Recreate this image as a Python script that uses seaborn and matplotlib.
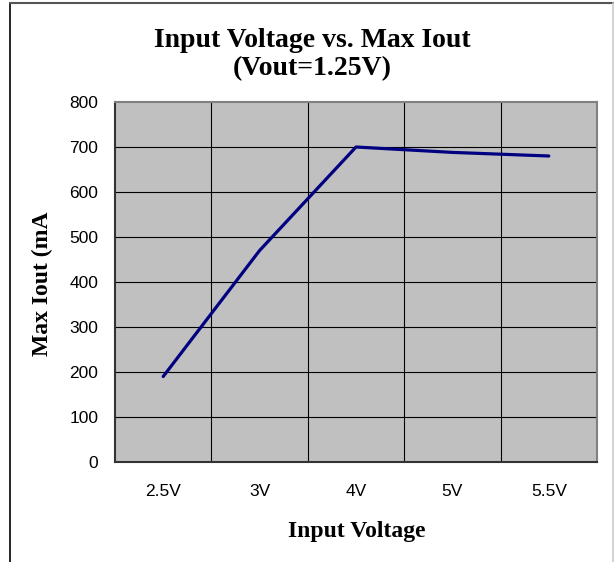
import matplotlib
matplotlib.use("Agg")
import matplotlib.pyplot as plt
import seaborn as sns
import pandas as pd
from matplotlib.lines import Line2D

sns.set_theme(style="white")
plt.rcParams['font.family'] = ['Liberation Sans', 'DejaVu Sans']
plt.rcParams['text.color'] = 'black'

voltages = ["2.5V", "3V", "4V", "5V", "5.5V"]
max_iout = [190, 470, 700, 688, 680]
y_ticks = [0, 100, 200, 300, 400, 500, 600, 700, 800]

df = pd.DataFrame({"voltage": voltages, "iout": max_iout})

W, H = 614, 562
fig = plt.figure(figsize=(W / 100, H / 100), dpi=100)
ax = fig.add_axes([115 / W, 1 - 462 / H, 482 / W, 360 / H])
ax.set_facecolor("#c0c0c0")

sns.lineplot(data=df, x="voltage", y="iout", color="#000080", linewidth=2.3,
             sort=False, ax=ax, zorder=3)

ax.set_xlim(-0.5, len(voltages) - 0.5)
ax.set_ylim(0, 800)
ax.set_yticks(y_ticks)
ax.set_xticks(range(len(voltages)))
ax.set_xticklabels(voltages)

# excel style grid: horizontal at ticks, vertical between categories
ax.grid(False)
for v in y_ticks[1:-1]:
    ax.axhline(v, color="black", linewidth=0.8, zorder=1)
for x in [i + 0.5 for i in range(len(voltages) - 1)]:
    ax.axvline(x, color="black", linewidth=0.8, zorder=1)

ax.tick_params(axis="y", length=2, width=0.8, color="#333333",
               direction="in", pad=12, labelsize=12.5, labelcolor="black")
ax.tick_params(axis="x", length=0, pad=16, labelsize=12.5, labelcolor="black")

ax.spines["left"].set_color("#333333")
ax.spines["bottom"].set_color("#333333")
ax.spines["top"].set_color("#808080")
ax.spines["right"].set_color("#808080")
for s in ax.spines.values():
    s.set_linewidth(1.5)

ax.set_xlabel("")
ax.set_ylabel("")

serif = ['Liberation Serif', 'DejaVu Serif']
fig.text(312 / W, 1 - 47 / H, "Input Voltage vs. Max Iout", ha="center", va="baseline",
         fontsize=20, fontweight="bold", family=serif, color="black")
fig.text(312 / W, 1 - 75 / H, "(Vout=1.25V)", ha="center", va="baseline",
         fontsize=20, fontweight="bold", family=serif, color="black")
fig.text(357 / W, 1 - 537 / H, "Input Voltage", ha="center", va="baseline",
         fontsize=17, fontweight="bold", family=serif, color="black")
fig.text(42 / W, 1 - 284 / H, "Max Iout (mA", ha="center", va="center",
         rotation=90, fontsize=17, fontweight="bold", family=serif, color="black")

# outer chart frame
fig.add_artist(Line2D([10 / W, 10 / W], [0, 1 - 3 / H], color="black", linewidth=1.2,
                      transform=fig.transFigure))
fig.add_artist(Line2D([10 / W, 1], [1 - 3 / H, 1 - 3 / H], color="#555555", linewidth=1.5,
                      transform=fig.transFigure))
fig.add_artist(Line2D([612.5 / W, 612.5 / W], [0, 1 - 3 / H], color="#cccccc", linewidth=1.2,
                      transform=fig.transFigure))

fig.savefig("out.png", dpi=100, facecolor="white")
